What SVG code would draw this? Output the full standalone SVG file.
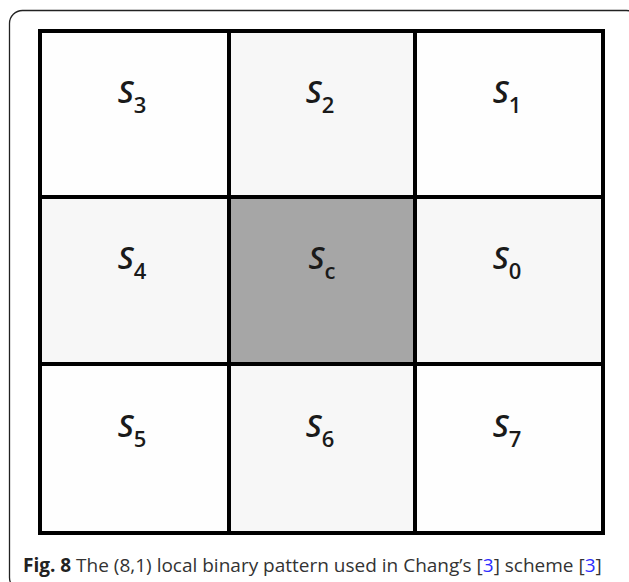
<svg xmlns="http://www.w3.org/2000/svg" width="629" height="582" viewBox="0 0 629 582">
<style>
.lbl{font-family:"Open Sans","Noto Sans",sans-serif;font-style:italic;font-weight:600;font-size:31px;fill:#1a1a1a;text-anchor:middle}
.sub{font-style:normal;font-weight:600;font-size:22px}
.cap{font-family:"Open Sans","Noto Sans",sans-serif;font-size:19px;fill:#333}
.grid{stroke:#000;stroke-width:4;fill:none}
</style>
<rect x="0" y="0" width="629" height="582" fill="#fff"/>
<rect x="9.5" y="10.5" width="630" height="580" rx="13" fill="none" stroke="#222" stroke-width="1.3"/>
<g id="cells">
<g id="s3"><rect x="40" y="31" width="189" height="166" fill="#fefefe"/><text class="lbl" x="132" y="103">S<tspan class="sub" dy="10">3</tspan></text></g>
<g id="s2"><rect x="229" y="31" width="186" height="166" fill="#f7f7f7"/><text class="lbl" x="320" y="103">S<tspan class="sub" dy="10">2</tspan></text></g>
<g id="s1"><rect x="415" y="31" width="188" height="166" fill="#fefefe"/><text class="lbl" x="507" y="103">S<tspan class="sub" dy="10">1</tspan></text></g>
<g id="s4"><rect x="40" y="197" width="189" height="167" fill="#f7f7f7"/><text class="lbl" x="132" y="269">S<tspan class="sub" dy="10">4</tspan></text></g>
<g id="sc"><rect x="229" y="197" width="186" height="167" fill="#a6a6a6"/><text class="lbl" x="322" y="269">S<tspan class="sub" dy="10" font-style="italic">c</tspan></text></g>
<g id="s0"><rect x="415" y="197" width="188" height="167" fill="#f7f7f7"/><text class="lbl" x="507" y="269">S<tspan class="sub" dy="10">0</tspan></text></g>
<g id="s5"><rect x="40" y="364" width="189" height="169" fill="#fefefe"/><text class="lbl" x="132" y="437">S<tspan class="sub" dy="10">5</tspan></text></g>
<g id="s6"><rect x="229" y="364" width="186" height="169" fill="#f7f7f7"/><text class="lbl" x="320" y="437">S<tspan class="sub" dy="10">6</tspan></text></g>
<g id="s7"><rect x="415" y="364" width="188" height="169" fill="#fefefe"/><text class="lbl" x="507" y="437">S<tspan class="sub" dy="10">7</tspan></text></g>
</g>
<g id="connectors">
<rect class="grid" x="40" y="31" width="563" height="502"/>
<line class="grid" x1="229" y1="31" x2="229" y2="533"/>
<line class="grid" x1="415" y1="31" x2="415" y2="533"/>
<line class="grid" x1="40" y1="197" x2="603" y2="197"/>
<line class="grid" x1="40" y1="364" x2="603" y2="364"/>
</g>
<text class="cap" x="23" y="572"><tspan font-weight="700" fill="#222">Fig. 8</tspan> The (8,1) local binary pattern used in Chang’s [<tspan fill="#2b2bff">3</tspan>] scheme [<tspan fill="#2b2bff">3</tspan>]</text>
</svg>
